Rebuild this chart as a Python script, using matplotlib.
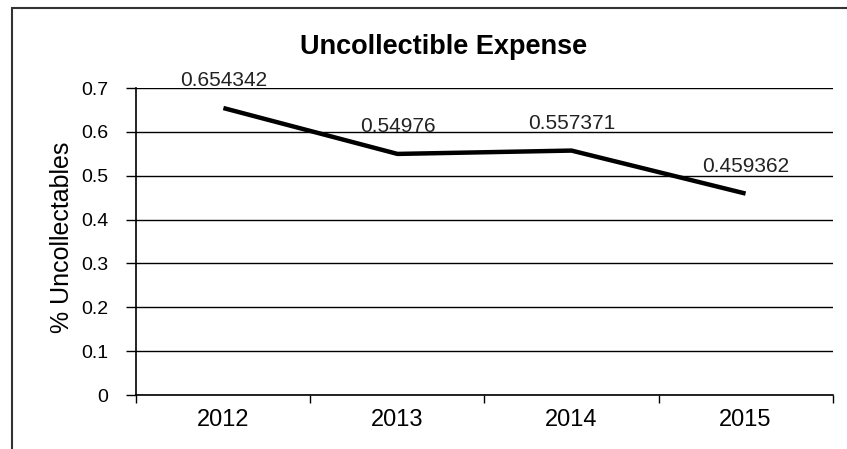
import matplotlib.pyplot as plt
from matplotlib.patches import Rectangle

plt.rcParams['font.family'] = ['Liberation Sans', 'DejaVu Sans']

years = ['2012', '2013', '2014', '2015']
values = [0.654342, 0.54976, 0.557371, 0.459362]
labels = ['0.654342', '0.54976', '0.557371', '0.459362']
yticks = [0, 0.1, 0.2, 0.3, 0.4, 0.5, 0.6, 0.7]

fig = plt.figure(figsize=(8.47, 4.49), dpi=100)
# chart border: only left and top edges fall inside the picture
fig.patches.append(Rectangle((0.014, -0.5), 2.0, 1.482, transform=fig.transFigure,
                             fill=False, edgecolor='#333333', linewidth=1.5))
ax = fig.add_axes([0.161, 0.12, 0.822, 0.684])

x = list(range(len(years)))
ax.plot(x, values, color='black', linewidth=3.2, solid_capstyle='butt')
for xi, v, lab in zip(x, values, labels):
    ax.annotate(lab, (xi, v), xytext=(0, 13), textcoords='offset points',
                ha='center', va='bottom', fontsize=15, color='#222222')

ax.set_xlim(-0.5, len(years) - 0.5)
ax.set_ylim(0, 0.7)
ax.set_yticks(yticks)
ax.set_yticklabels(['0', '0.1', '0.2', '0.3', '0.4', '0.5', '0.6', '0.7'], fontsize=14)
ax.yaxis.grid(True, color='black', linewidth=1)
ax.set_axisbelow(True)

ax.set_xticks([i - 0.5 for i in range(len(years) + 1)])
ax.set_xticklabels([''] * (len(years) + 1))
ax.set_xticks(x, minor=True)
ax.set_xticklabels(years, minor=True, fontsize=17)
ax.tick_params(axis='x', which='minor', length=0, pad=10)
ax.tick_params(axis='x', which='major', length=6, direction='out', width=1)
ax.tick_params(axis='y', length=7, direction='out', width=1, pad=13)

for s in ['top', 'right']:
    ax.spines[s].set_visible(False)
ax.spines['left'].set_linewidth(1.2)
ax.spines['bottom'].set_linewidth(1.2)

ax.set_ylabel('% Uncollectables', fontsize=18)
ax.yaxis.set_label_coords(-0.09, 0.515)
fig.text(0.524, 0.895, 'Uncollectible Expense', ha='center', va='center',
         fontsize=19.5, fontweight='bold')

fig.savefig('out.png', dpi=100)
